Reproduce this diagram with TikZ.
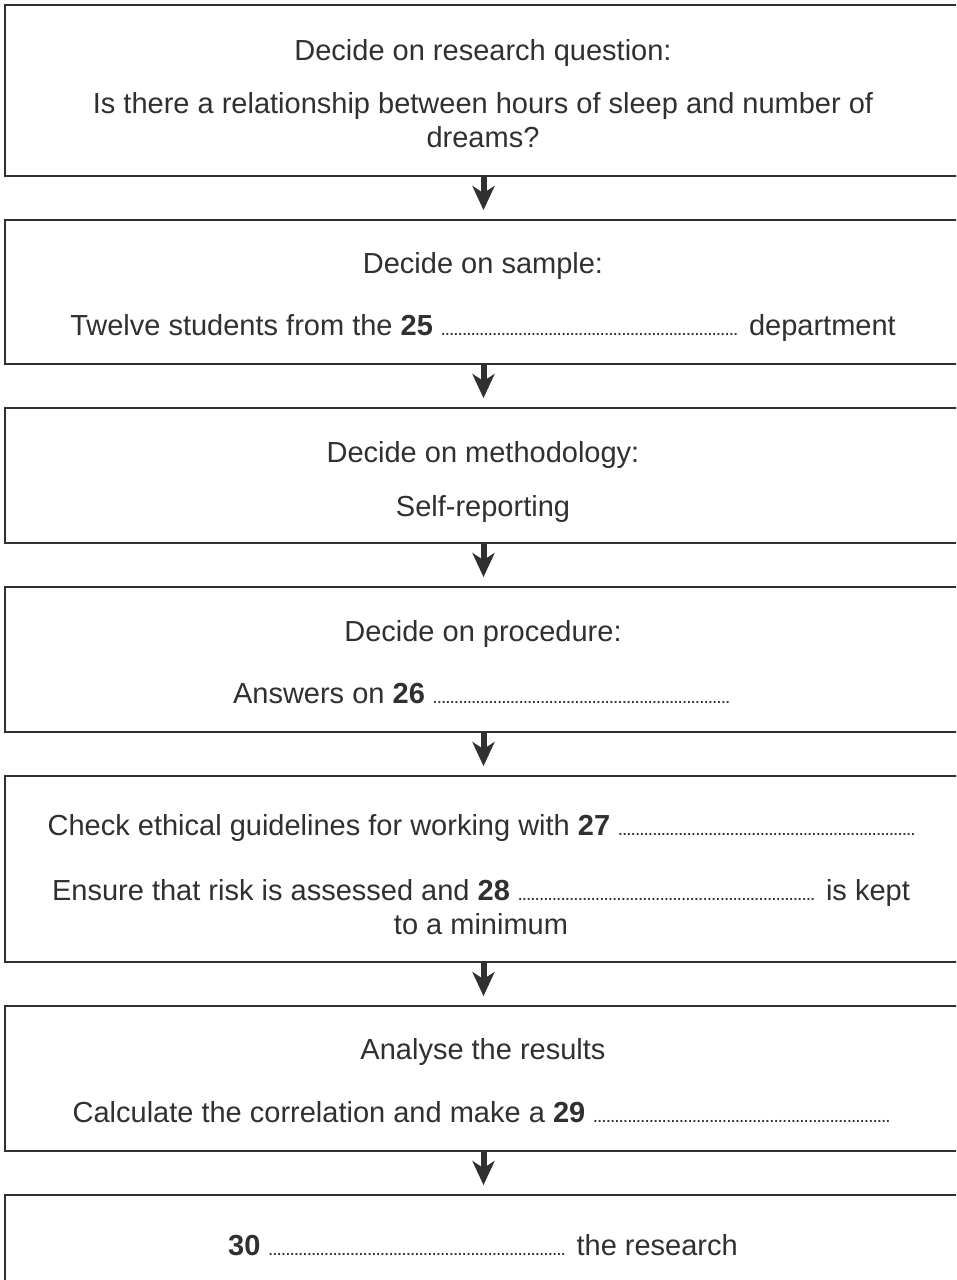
\documentclass[tikz,border=0pt]{standalone}
\usepackage{fontspec}
\setmainfont{Liberation Sans}
\usetikzlibrary{arrows.meta}
\definecolor{ink}{HTML}{303030}
\newcommand{\dotsblank}[1][300pt]{\hbox to #1{\fontsize{19}{19}\selectfont\leaders\hbox to 4.3pt{\hss.\hss}\hfill}}
\begin{document}
\begin{tikzpicture}[x=1pt,y=-1pt,
  box/.style={draw=ink, line width=1.8pt, minimum width=957pt, inner sep=0pt},
  txt/.style={anchor=base, text=ink, font=\fontsize{29}{34}\selectfont, inner sep=0pt},
  arr/.style={draw=ink, line width=6pt, -{Stealth[length=24pt,width=22pt,inset=7pt]}, shorten >=9pt}]
\useasboundingbox (0,0) rectangle (956,1280);
\clip (0,0) rectangle (956,1280);
\fill[white] (0,0) rectangle (956,1280);
% boxes
\node[box, minimum height=171pt] (b1) at (483.5,90.5) {};
\node[box, minimum height=144pt] (b2) at (483.5,292) {};
\node[box, minimum height=135pt] (b3) at (483.5,475.5) {};
\node[box, minimum height=145pt] (b4) at (483.5,659.5) {};
\node[box, minimum height=186pt] (b5) at (483.5,869) {};
\node[box, minimum height=145pt] (b6) at (483.5,1078.5) {};
\node[box, minimum height=105pt] (b7) at (483.5,1247.5) {};
% arrows
\draw[arr] (b1.south) -- (b2.north);
\draw[arr] (b2.south) -- (b3.north);
\draw[arr] (b3.south) -- (b4.north);
\draw[arr] (b4.south) -- (b5.north);
\draw[arr] (b5.south) -- (b6.north);
\draw[arr] (b6.south) -- (b7.north);
% texts
\node[txt] (t1a) at (483,60) {Decide on research question:};
\node[txt] (t1b) at (483,113) {Is there a relationship between hours of sleep and number of};
\node[txt] (t1c) at (483,147) {dreams?};
\node[txt] (t2a) at (483,273) {Decide on sample:};
\node[txt] (t2b) at (483,335) {Twelve students from the \textbf{25} \dotsblank{} department};
\node[txt] (t3a) at (483,462) {Decide on methodology:};
\node[txt] (t3b) at (483,516) {Self-reporting};
\node[txt] (t4a) at (483,641) {Decide on procedure:};
\node[txt] (t4b) at (483,703) {Answers on \textbf{26} \dotsblank};
\node[txt] (t5a) at (483,835) {Check ethical guidelines for working with \textbf{27} \dotsblank};
\node[txt] (t5b) at (481,900) {Ensure that risk is assessed and \textbf{28} \dotsblank{} is kept};
\node[txt] (t5c) at (481,934) {to a minimum};
\node[txt] (t6a) at (483,1059) {Analyse the results};
\node[txt] (t6b) at (483,1122) {Calculate the correlation and make a \textbf{29} \dotsblank};
\node[txt] (t7a) at (483,1255) {\textbf{30} \dotsblank{} the research};
\end{tikzpicture}
\end{document}
